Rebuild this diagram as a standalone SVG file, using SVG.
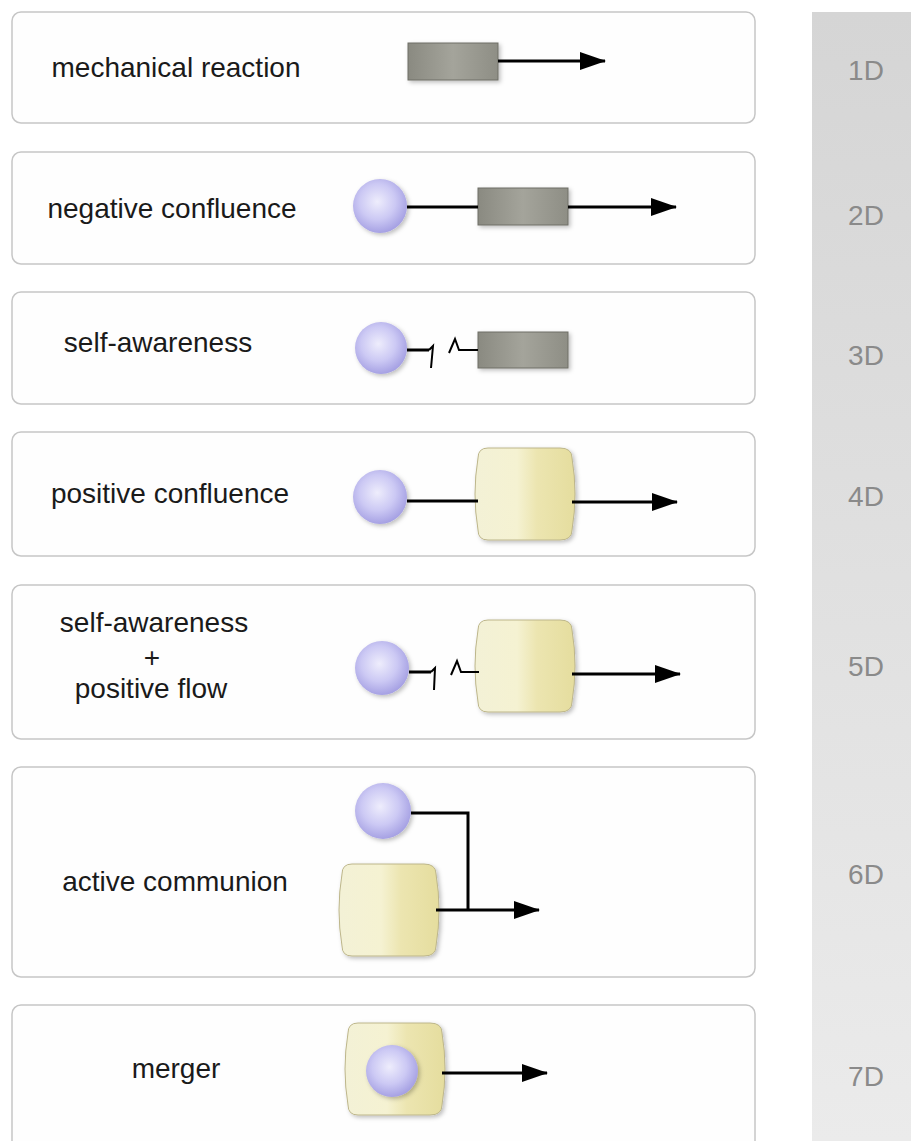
<svg xmlns="http://www.w3.org/2000/svg" width="911" height="1141" viewBox="0 0 911 1141">
<defs>
<linearGradient id="side" x1="0" y1="0" x2="0" y2="1">
<stop offset="0" stop-color="#d5d5d5"/><stop offset="1" stop-color="#ebebeb"/>
</linearGradient>
<radialGradient id="ball" cx="0.45" cy="0.42" r="0.6">
<stop offset="0" stop-color="#eeedfc"/><stop offset="0.55" stop-color="#ccc9f4"/><stop offset="1" stop-color="#a39ee2"/>
</radialGradient>
<linearGradient id="box" x1="0" y1="0" x2="1" y2="0">
<stop offset="0" stop-color="#8a8a81"/><stop offset="0.5" stop-color="#a4a49b"/><stop offset="1" stop-color="#8e8e85"/>
</linearGradient>
<linearGradient id="can" x1="0" y1="0" x2="1" y2="0">
<stop offset="0" stop-color="#f3f1d6"/><stop offset="0.42" stop-color="#f5f2d2"/><stop offset="0.62" stop-color="#ece5b0"/><stop offset="1" stop-color="#e5dd9e"/>
</linearGradient>
<filter id="sh" x="-20%" y="-20%" width="150%" height="150%">
<feDropShadow dx="2" dy="2" stdDeviation="2" flood-color="#000" flood-opacity="0.25"/>
</filter>
<marker id="ah" viewBox="0 0 26 18" refX="25" refY="9" markerWidth="26" markerHeight="18" markerUnits="userSpaceOnUse" orient="auto">
<path d="M0,0 L26,9 L0,18 Z" fill="#000"/>
</marker>
<path id="canShape" d="M10,0 H82 Q94,0 94,10 Q100,46 94,82 Q94,92 82,92 H10 Q0,92 0,82 Q-6,46 0,10 Q0,0 10,0 Z"/>
</defs>
<style>
.panel{fill:#fefefe;stroke:#c6c6c6;stroke-width:1.5}
.lbl{font-family:"Liberation Sans",Arial,sans-serif;font-size:28px;fill:#1a1a1a;text-anchor:middle}
.dim{font-family:"Liberation Sans",Arial,sans-serif;font-size:28px;fill:#8a8a8a;text-anchor:middle}
.ball{fill:url(#ball);filter:url(#sh)}
.box{fill:url(#box);stroke:#6e6e66;stroke-width:1;filter:url(#sh)}
.can{fill:url(#can);stroke:#bdb68a;stroke-width:1;filter:url(#sh)}
.ln{fill:none;stroke:#000;stroke-width:3}
.arr{fill:none;stroke:#000;stroke-width:3;marker-end:url(#ah)}
.brk{fill:none;stroke:#000;stroke-width:2}
</style>
<rect width="911" height="1141" fill="#ffffff"/>
<rect id="sidebar" x="812" y="12" width="99" height="1129" fill="url(#side)"/>

<g id="row1">
<rect class="panel" x="12" y="12" width="743" height="111" rx="9"/>
<text class="lbl" x="176" y="77">mechanical reaction</text>
<rect class="box" x="408" y="43" width="90" height="37"/>
</g>
<g id="row2">
<rect class="panel" x="12" y="152" width="743" height="112" rx="9"/>
<text class="lbl" x="172" y="218">negative confluence</text>
<circle class="ball" cx="380" cy="206" r="27"/>
<rect class="box" x="478" y="188" width="90" height="37"/>
</g>
<g id="row3">
<rect class="panel" x="12" y="292" width="743" height="112" rx="9"/>
<text class="lbl" x="158" y="352">self-awareness</text>
<circle class="ball" cx="381" cy="348" r="26"/>
<rect class="box" x="478" y="332" width="90" height="36"/>
</g>
<g id="row4">
<rect class="panel" x="12" y="432" width="743" height="124" rx="9"/>
<text class="lbl" x="170" y="503">positive confluence</text>
<circle class="ball" cx="380" cy="497" r="27"/>
<use class="can" href="#canShape" x="478" y="448"/>
</g>
<g id="row5">
<rect class="panel" x="12" y="585" width="743" height="154" rx="9"/>
<text class="lbl" x="154" y="632">self-awareness</text>
<text class="lbl" x="152" y="667">+</text>
<text class="lbl" x="151" y="698">positive flow</text>
<circle class="ball" cx="382" cy="668" r="27"/>
<use class="can" href="#canShape" x="478" y="620"/>
</g>
<g id="row6">
<rect class="panel" x="12" y="767" width="743" height="210" rx="9"/>
<text class="lbl" x="175" y="891">active communion</text>
<circle class="ball" cx="383" cy="811" r="28"/>
<use class="can" href="#canShape" x="342" y="864"/>
</g>
<g id="row7">
<rect class="panel" x="12" y="1005" width="743" height="150" rx="9"/>
<text class="lbl" x="176" y="1078">merger</text>
<use class="can" href="#canShape" x="348" y="1023"/>
<circle class="ball" cx="392" cy="1071" r="26"/>
</g>

<g id="labels">
<text class="dim" x="866" y="80">1D</text>
<text class="dim" x="866" y="225">2D</text>
<text class="dim" x="866" y="365">3D</text>
<text class="dim" x="866" y="506">4D</text>
<text class="dim" x="866" y="676">5D</text>
<text class="dim" x="866" y="884">6D</text>
<text class="dim" x="866" y="1086">7D</text>
</g>

<g id="connectors">
<path class="arr" d="M498,61 H605"/>
<path class="ln" d="M407,207 H478"/>
<path class="arr" d="M568,207 H676"/>
<path class="ln" d="M407,350 H429"/>
<path class="brk" d="M429,350 L433,346 L431,368"/>
<path class="brk" d="M449,353 L455,339 L459,350 H478"/>
<path class="ln" d="M407,501 H478"/>
<path class="arr" d="M572,502 H677"/>
<path class="ln" d="M409,672 H431"/>
<path class="brk" d="M431,672 L435,668 L434,690"/>
<path class="brk" d="M451,675 L457,661 L461,672 H479"/>
<path class="arr" d="M572,674 H680"/>
<path class="ln" d="M411,813 H468 V910"/>
<path class="arr" d="M436,910 H539"/>
<path class="arr" d="M442,1073 H547"/>
</g>
</svg>
